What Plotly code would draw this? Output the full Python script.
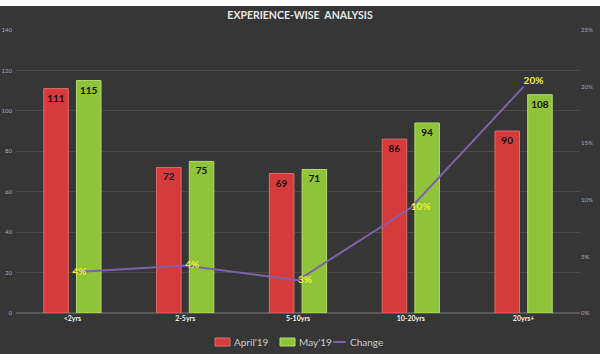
import plotly.graph_objects as go

categories = ["<2yrs", "2-5yrs", "5-10yrs", "10-20yrs", "20yrs+"]
april = [111, 72, 69, 86, 90]
may = [115, 75, 71, 94, 108]
change = [0.036, 0.042, 0.029, 0.093, 0.20]
change_labels = ["4%", "4%", "3%", "10%", "20%"]
left_ticks = [0, 20, 40, 60, 80, 100, 120, 140]
right_ticks = [0, 0.05, 0.10, 0.15, 0.20, 0.25]

W, H = 600, 360
ml, mr, mt, mb = 16, 20, 30, 47
pw, ph = W - ml - mr, H - mt - mb

def py(p):
    return (H - mb - p) / ph

def px(p):
    return (p - ml) / pw

RED, RED_EDGE = "#D63B3B", "#E66A6A"
GREEN, GREEN_EDGE = "#8FC33A", "#B2DC6A"
PURPLE = "#7D62A8"
bar_font = dict(color="#111111", size=10, family="Lato", weight="bold")

fig = go.Figure()
fig.add_trace(go.Bar(
    x=categories, y=april, name="April'19",
    marker=dict(color=RED, line=dict(color=RED_EDGE, width=1)),
    text=[str(v) for v in april], textposition="inside", insidetextanchor="end",
    textangle=0, textfont=bar_font, constraintext="none",
))
fig.add_trace(go.Bar(
    x=categories, y=may, name="May'19",
    marker=dict(color=GREEN, line=dict(color=GREEN_EDGE, width=1)),
    text=[str(v) for v in may], textposition="inside", insidetextanchor="end",
    textangle=0, textfont=bar_font, constraintext="none",
))
fig.add_trace(go.Scatter(
    x=categories, y=change, name="Change", yaxis="y2", mode="lines+text",
    line=dict(color=PURPLE, width=2),
    text=change_labels,
    textposition=["middle right", "middle right", "middle right", "middle right", "top right"],
    textfont=dict(color="#F0F02A", size=10, family="Lato", weight="bold"),
))

shapes = [
    dict(type="rect", xref="paper", yref="paper",
         x0=px(0), x1=px(W), y0=py(354), y1=py(6),
         fillcolor="#363636", line=dict(width=0), layer="below"),
    # legend swatches
    dict(type="rect", xref="paper", yref="paper", x0=px(215), x1=px(230), y0=py(346), y1=py(338),
         fillcolor=RED, line=dict(color=RED_EDGE, width=1)),
    dict(type="rect", xref="paper", yref="paper", x0=px(280), x1=px(295), y0=py(346), y1=py(338),
         fillcolor=GREEN, line=dict(color=GREEN_EDGE, width=1)),
    dict(type="line", xref="paper", yref="paper", x0=px(333), x1=px(346), y0=py(342), y1=py(342),
         line=dict(color=PURPLE, width=2)),
]

leg_font = dict(family="Lato", size=10, color="#CCCCCC")
annotations = [
    dict(text="April'19", xref="paper", yref="paper", x=px(232), y=py(342), xanchor="left",
         yanchor="middle", showarrow=False, font=leg_font),
    dict(text="May'19", xref="paper", yref="paper", x=px(297), y=py(342), xanchor="left",
         yanchor="middle", showarrow=False, font=leg_font),
    dict(text="Change", xref="paper", yref="paper", x=px(348), y=py(342), xanchor="left",
         yanchor="middle", showarrow=False, font=leg_font),
]

fig.update_layout(
    width=W, height=H,
    margin=dict(l=ml, r=mr, t=mt, b=mb, autoexpand=False),
    paper_bgcolor="white", plot_bgcolor="rgba(0,0,0,0)",
    shapes=shapes, annotations=annotations,
    barmode="group", bargap=0.42, bargroupgap=0.25,
    title=dict(text="<b>EXPERIENCE-WISE  ANALYSIS</b>", x=0.5, xanchor="center",
               y=1 - 15 / H, yanchor="middle",
               font=dict(family="Lato", size=10.5, color="#E6E6E6")),
    xaxis=dict(tickfont=dict(family="Lato", size=7, color="#F0F0F0", weight="bold"),
               showgrid=False, showline=False, ticks="", automargin=False),
    yaxis=dict(range=[0, 140], tickvals=left_ticks, tickfont=dict(family="Lato", size=6, color="#AAAAAA"),
               gridcolor="#4A4A4A", gridwidth=1, zeroline=True, zerolinecolor="#5A5A5A", zerolinewidth=2,
               showline=False, ticks="", automargin=False, ticklabelstandoff=3),
    yaxis2=dict(range=[0, 0.25], tickvals=right_ticks, tickformat=".0%", overlaying="y", side="right",
                tickfont=dict(family="Lato", size=6, color="#AAAAAA"), showgrid=False,
                zeroline=False, showline=False, ticks="", automargin=False),
    showlegend=False,
)

fig.write_html("out.html", config={"displayModeBar": False},
               post_script="document.body.style.margin='0';document.body.style.overflow='hidden';")
